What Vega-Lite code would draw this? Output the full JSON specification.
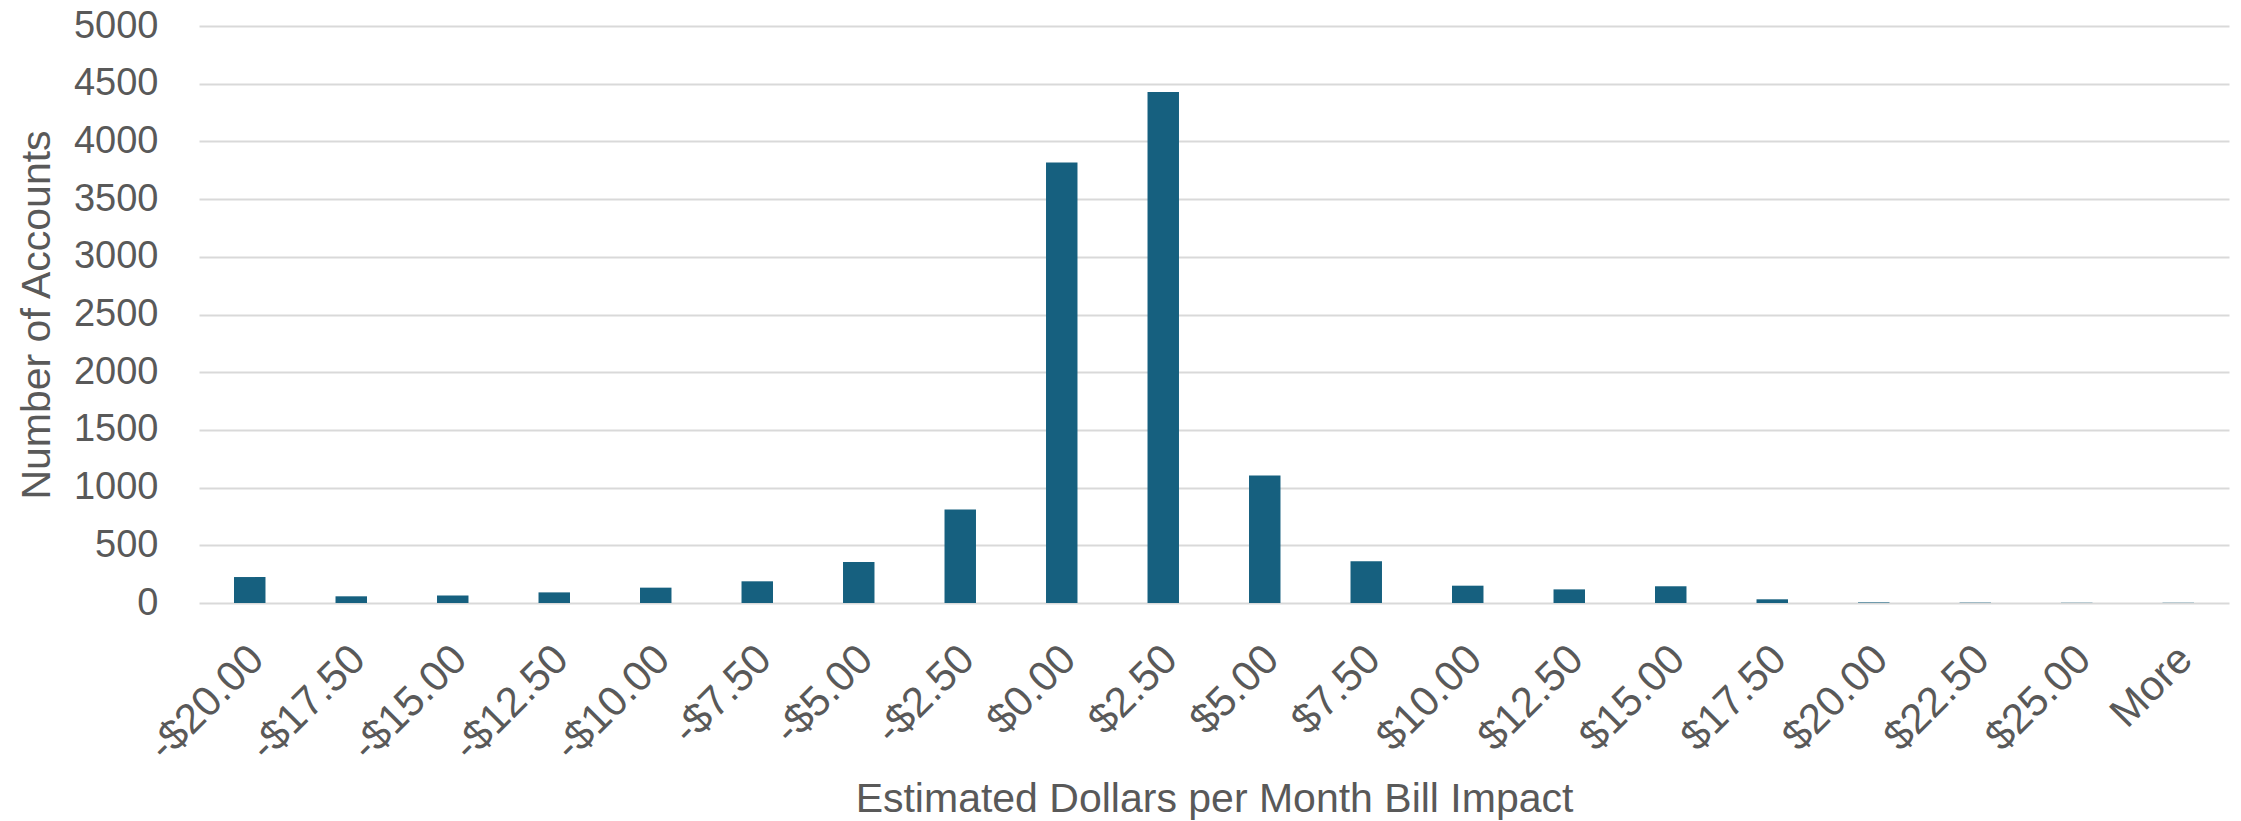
{
  "$schema": "https://vega.github.io/schema/vega-lite/v6.json",
  "autosize": {"type": "none"},
  "padding": {"left": 199, "top": 26, "right": 12, "bottom": 218},
  "width": 2030,
  "height": 577,
  "background": "#ffffff",
  "data": {
    "values": [
      {"bin": "-$20.00", "count": 225},
      {"bin": "-$17.50", "count": 58},
      {"bin": "-$15.00", "count": 66},
      {"bin": "-$12.50", "count": 92},
      {"bin": "-$10.00", "count": 133},
      {"bin": "-$7.50", "count": 188},
      {"bin": "-$5.00", "count": 355},
      {"bin": "-$2.50", "count": 810},
      {"bin": "$0.00", "count": 3818},
      {"bin": "$2.50", "count": 4428},
      {"bin": "$5.00", "count": 1105},
      {"bin": "$7.50", "count": 362},
      {"bin": "$10.00", "count": 150},
      {"bin": "$12.50", "count": 118},
      {"bin": "$15.00", "count": 145},
      {"bin": "$17.50", "count": 32},
      {"bin": "$20.00", "count": 5},
      {"bin": "$22.50", "count": 3},
      {"bin": "$25.00", "count": 2},
      {"bin": "More", "count": 2}
    ]
  },
  "mark": {"type": "bar", "color": "#16607F"},
  "encoding": {
    "x": {
      "field": "bin",
      "type": "nominal",
      "sort": null,
      "scale": {"paddingInner": 0.69, "paddingOuter": 0.345},
      "axis": {
        "title": "Estimated Dollars per Month Bill Impact",
        "labelAngle": -45,
        "labelFontSize": 42,
        "labelFont": "Liberation Sans",
        "labelColor": "#595959",
        "labelPadding": 35,
        "labelOffset": -7,
        "ticks": false,
        "domain": false,
        "grid": false,
        "titleFont": "Liberation Sans",
        "titleFontSize": 41,
        "titleFontWeight": "normal",
        "titleColor": "#595959",
        "titlePadding": 12
      }
    },
    "y": {
      "field": "count",
      "type": "quantitative",
      "scale": {"domain": [0, 5000], "nice": false},
      "axis": {
        "title": "Number of Accounts",
        "values": [0, 500, 1000, 1500, 2000, 2500, 3000, 3500, 4000, 4500, 5000],
        "format": "d",
        "labelFontSize": 38,
        "labelFont": "Liberation Sans",
        "labelColor": "#595959",
        "labelPadding": 41,
        "ticks": false,
        "domain": false,
        "grid": true,
        "gridColor": "#d9d9d9",
        "gridWidth": 2,
        "titleFont": "Liberation Sans",
        "titleFontSize": 41,
        "titleFontWeight": "normal",
        "titleColor": "#595959",
        "titlePadding": 15
      }
    }
  },
  "config": {"view": {"stroke": null}}
}
